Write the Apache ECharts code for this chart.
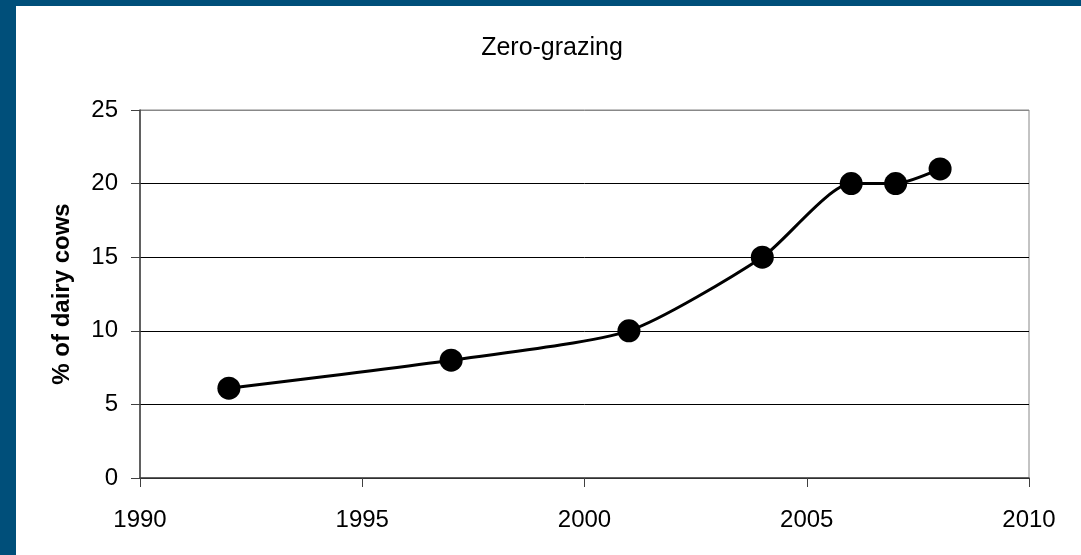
<!DOCTYPE html>
<html>
<head>
<meta charset="utf-8">
<script src="https://cdn.jsdelivr.net/npm/echarts@6/dist/echarts.min.js"></script>
<style>
  html, body { margin: 0; padding: 0; background: #fff; }
  #main { width: 1081px; height: 555px; }
</style>
</head>
<body>
<div id="main"></div>
<script>
// 数据：年份和零放牧奶牛比例
const years = [1992, 1997, 2001, 2004, 2006, 2007, 2008]
const percent = [6.1, 8, 10, 15, 20, 20, 21]
const titleText = 'Zero-grazing'
const yName = '% of dairy cows'

const font = 'Liberation Sans, Arial, sans-serif'
const myChart = echarts.init(document.querySelector('#main'))

myChart.setOption({
  backgroundColor: '#fff',
  animation: false,
  // 幻灯片的蓝色边框
  graphic: [
    { type: 'rect', shape: { x: 0, y: 0, width: 16, height: 555 }, style: { fill: '#004f7a' } },
    { type: 'rect', shape: { x: 0, y: 0, width: 1081, height: 6 }, style: { fill: '#004f7a' } }
  ],
  title: {
    text: titleText,
    left: 547,
    textAlign: 'center',
    top: 31,
    textStyle: { fontFamily: font, fontSize: 25, fontWeight: 'normal', color: '#000' }
  },
  grid: {
    left: 140, right: 52, top: 110, bottom: 77,
    show: true, borderColor: '#888', borderWidth: 1
  },
  xAxis: {
    type: 'value',
    min: 1990, max: 2010, interval: 5,
    axisLine: { show: true, lineStyle: { color: '#404040', width: 1.5 } },
    axisTick: { show: true, inside: false, length: 9, lineStyle: { color: '#404040' } },
    axisLabel: { fontFamily: font, fontSize: 24, color: '#000', margin: 30, formatter: v => String(v) },
    splitLine: { show: false }
  },
  yAxis: {
    type: 'value',
    min: 0, max: 25, interval: 5,
    name: yName,
    nameLocation: 'middle',
    nameGap: 66,
    nameTextStyle: { fontFamily: font, fontSize: 24, fontWeight: 'bold', color: '#000' },
    axisLine: { show: true, lineStyle: { color: '#404040', width: 1.5 } },
    axisTick: { show: true, inside: false, length: 9, lineStyle: { color: '#404040' } },
    axisLabel: { fontFamily: font, fontSize: 24, color: '#000', margin: 22 },
    splitLine: { show: true, lineStyle: { color: ['#000', '#000', '#000', '#000', '#000', '#888'], width: 1 } }
  },
  series: [
    {
      type: 'line',
      data: years.map((y, i) => [y, percent[i]]),
      smooth: 0.22,
      symbol: 'circle',
      symbolSize: 23,
      lineStyle: { color: '#000', width: 3 },
      itemStyle: { color: '#000' }
    }
  ]
})
</script>
</body>
</html>
